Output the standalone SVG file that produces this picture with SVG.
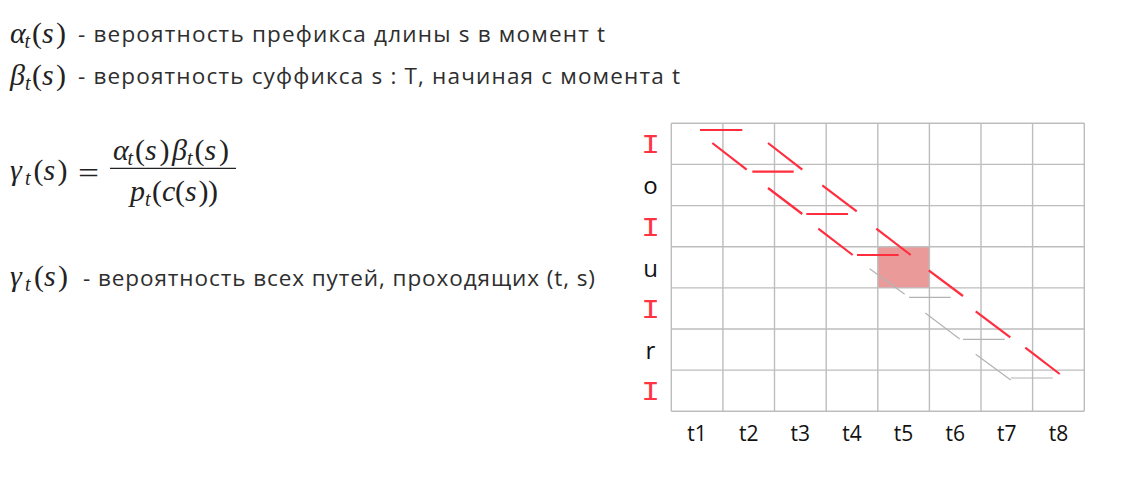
<svg xmlns="http://www.w3.org/2000/svg" width="1123" height="483" viewBox="0 0 1123 483">
<style>
.txt{font-family:"Open Sans","Liberation Sans",sans-serif;font-size:22.5px;fill:#2e2e2e}
.m{font-family:"Liberation Serif","DejaVu Serif",serif;font-size:30px;fill:#222}
.mi{font-style:italic}
.sub{font-family:"Liberation Serif","DejaVu Serif",serif;font-size:20px;font-style:italic;fill:#222}
.grid line{stroke:#bdbdbd;stroke-width:1.4}
.blank{font-family:"Liberation Mono","DejaVu Sans Mono",monospace;font-size:26px;fill:#ff3344;text-anchor:middle}
.sym{font-family:"Open Sans","Liberation Sans",sans-serif;font-size:24px;fill:#111;text-anchor:middle}
.tl{font-family:"Open Sans","Liberation Sans",sans-serif;font-size:21px;fill:#111;text-anchor:middle}
.red{stroke:#ff2d3d;stroke-width:2.2;fill:none}
.gray{stroke:#b3b3b3;stroke-width:1.2;fill:none}
</style>
<rect width="1123" height="483" fill="#ffffff"/>

<g id="alpha-def">
<text class="m mi" x="10" y="43">α</text>
<text class="sub" x="24.5" y="48">t</text>
<text class="m" x="32" y="43">(</text>
<text class="m mi" x="42" y="43">s</text>
<text class="m" x="56" y="43">)</text>
<text class="txt" x="78" y="41.5" textLength="527">- вероятность префикса длины s в момент t</text>
</g>

<g id="beta-def">
<text class="m mi" x="10" y="85">β</text>
<text class="sub" x="25" y="90">t</text>
<text class="m" x="32" y="85">(</text>
<text class="m mi" x="42" y="85">s</text>
<text class="m" x="56" y="85">)</text>
<text class="txt" x="78" y="83.5" textLength="602">- вероятность суффикса s : T, начиная с момента t</text>
</g>

<g id="gamma-formula">
<text class="m mi" x="10" y="180">γ</text>
<text class="sub" x="25" y="185">t</text>
<text class="m" x="33.5" y="180">(</text>
<text class="m mi" x="43.5" y="180">s</text>
<text class="m" x="57.5" y="180">)</text>
<text class="m" x="78" y="183" textLength="21" lengthAdjust="spacingAndGlyphs">=</text>
<text class="m mi" x="113" y="160">α</text>
<text class="sub" x="127.5" y="165">t</text>
<text class="m" x="135" y="160">(</text>
<text class="m mi" x="145" y="160">s</text>
<text class="m" x="159.5" y="160">)</text>
<text class="m mi" x="172" y="160">β</text>
<text class="sub" x="187" y="165">t</text>
<text class="m" x="194.5" y="160">(</text>
<text class="m mi" x="204.5" y="160">s</text>
<text class="m" x="219" y="160">)</text>
<line x1="110" y1="168.3" x2="236" y2="168.3" stroke="#222" stroke-width="1.3"/>
<text class="m mi" x="130" y="201">p</text>
<text class="sub" x="145" y="206">t</text>
<text class="m" x="152" y="201">(</text>
<text class="m mi" x="162" y="201">c</text>
<text class="m" x="175" y="201">(</text>
<text class="m mi" x="185" y="201">s</text>
<text class="m" x="198.5" y="201">)</text>
<text class="m" x="208" y="201">)</text>
</g>

<g id="gamma-def">
<text class="m mi" x="10" y="286">γ</text>
<text class="sub" x="25" y="291">t</text>
<text class="m" x="34" y="286">(</text>
<text class="m mi" x="44" y="286">s</text>
<text class="m" x="58" y="286">)</text>
<text class="txt" x="83" y="285.5" textLength="512">- вероятность всех путей, проходящих (t, s)</text>
</g>

<g id="lattice">
<rect id="cell-t5-u" x="877.8" y="246.7" width="51.6" height="41.2" fill="#eb9a9a"/>
<g class="grid">
<line x1="671.3" y1="123.3" x2="1084.3" y2="123.3"/>
<line x1="671.3" y1="164.4" x2="1084.3" y2="164.4"/>
<line x1="671.3" y1="205.6" x2="1084.3" y2="205.6"/>
<line x1="671.3" y1="246.7" x2="1084.3" y2="246.7"/>
<line x1="671.3" y1="287.9" x2="1084.3" y2="287.9"/>
<line x1="671.3" y1="329.0" x2="1084.3" y2="329.0"/>
<line x1="671.3" y1="370.1" x2="1084.3" y2="370.1"/>
<line x1="671.3" y1="411.3" x2="1084.3" y2="411.3"/>
<line x1="671.3" y1="123.3" x2="671.3" y2="411.3"/>
<line x1="722.9" y1="123.3" x2="722.9" y2="411.3"/>
<line x1="774.5" y1="123.3" x2="774.5" y2="411.3"/>
<line x1="826.2" y1="123.3" x2="826.2" y2="411.3"/>
<line x1="877.8" y1="123.3" x2="877.8" y2="411.3"/>
<line x1="929.4" y1="123.3" x2="929.4" y2="411.3"/>
<line x1="981.0" y1="123.3" x2="981.0" y2="411.3"/>
<line x1="1032.6" y1="123.3" x2="1032.6" y2="411.3"/>
<line x1="1084.3" y1="123.3" x2="1084.3" y2="411.3"/>
</g>
</g>

<g id="row-labels">
<text class="blank" transform="translate(650.5 153) scale(1.2 1.05)">I</text>
<text class="sym" x="650.5" y="194">o</text>
<text class="blank" transform="translate(650.5 235.5) scale(1.2 1.05)">I</text>
<text class="sym" x="650.5" y="277">u</text>
<text class="blank" transform="translate(650.5 317.5) scale(1.2 1.05)">I</text>
<text class="sym" x="650.5" y="359">r</text>
<text class="blank" transform="translate(650.5 400) scale(1.2 1.05)">I</text>
</g>

<g id="col-labels">
<text class="tl" x="697.1" y="440.5">t1</text>
<text class="tl" x="748.7" y="440.5">t2</text>
<text class="tl" x="800.3" y="440.5">t3</text>
<text class="tl" x="852.0" y="440.5">t4</text>
<text class="tl" x="903.6" y="440.5">t5</text>
<text class="tl" x="955.2" y="440.5">t6</text>
<text class="tl" x="1006.8" y="440.5">t7</text>
<text class="tl" x="1058.5" y="440.5">t8</text>
</g>

<g id="connectors">
<line class="red" x1="700" y1="130" x2="742.3" y2="130"/>
<line class="red" x1="712.3" y1="143" x2="746.7" y2="169.7"/>
<line class="red" x1="768" y1="143" x2="802.3" y2="169.7"/>
<line class="red" x1="752.3" y1="171.7" x2="793.7" y2="171.7"/>
<line class="red" x1="768" y1="188" x2="802.3" y2="214"/>
<line class="red" x1="822.3" y1="185.3" x2="856.7" y2="211.3"/>
<line class="red" x1="806.3" y1="214" x2="848" y2="214"/>
<line class="red" x1="818.3" y1="228.7" x2="852.7" y2="255"/>
<line class="red" x1="876.3" y1="228.7" x2="910.7" y2="255"/>
<line class="red" x1="857" y1="255" x2="898.7" y2="255"/>
<line class="red" x1="928.7" y1="270.3" x2="963" y2="296"/>
<line class="red" x1="975.7" y1="311.3" x2="1010.3" y2="337.3"/>
<line class="red" x1="1025.3" y1="347.7" x2="1059.7" y2="374"/>
<line class="gray" x1="869.7" y1="268.7" x2="904.7" y2="294.3"/>
<line class="gray" x1="909" y1="297.3" x2="950.7" y2="297.3"/>
<line class="gray" x1="925.3" y1="313" x2="959.7" y2="339"/>
<line class="gray" x1="963" y1="339.3" x2="1004.7" y2="339.3"/>
<line class="gray" x1="975.7" y1="354.3" x2="1010.7" y2="380"/>
<line class="gray" x1="1010.7" y1="378" x2="1052.7" y2="378"/>
</g>
</svg>
